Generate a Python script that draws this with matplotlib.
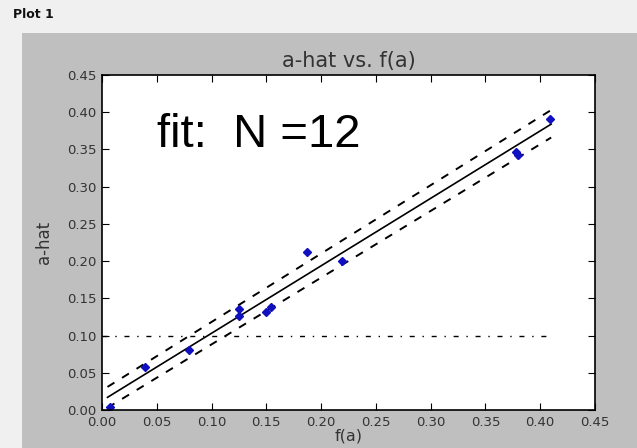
import numpy as np
from matplotlib import pyplot as plt
from matplotlib.patches import Rectangle

# data
f_a = [0.007, 0.039, 0.079, 0.125, 0.125, 0.150, 0.154, 0.187, 0.219, 0.378, 0.380, 0.409]
a_hat = [0.004, 0.058, 0.080, 0.126, 0.136, 0.131, 0.138, 0.212, 0.200, 0.347, 0.343, 0.391]

fit_x = [0.005, 0.41]
fit_y = [0.017, 0.384]
upper_y = [0.031, 0.403]
lower_y = [0.003, 0.366]

thresh_x = [0.0, 0.41]
thresh_y = [0.10, 0.10]

ticks = [0.00, 0.05, 0.10, 0.15, 0.20, 0.25, 0.30, 0.35, 0.40, 0.45]

fig = plt.figure(figsize=(6.37, 4.48), dpi=100, facecolor='#f0f0f0')
# gray panel behind the plot
fig.patches.append(Rectangle((22/637, 0), 1 - 22/637, (448-33)/448,
                             transform=fig.transFigure, facecolor='#bfbfbf',
                             edgecolor='none', zorder=-10))
fig.text(13/637, 1 - 15/448, 'Plot 1', fontsize=9, fontweight='bold',
         va='center', ha='left', color='#111111')

ax = fig.add_axes([102/637, 38/448, 493/637, 335/448])
ax.set_zorder(5)
ax.set_facecolor('white')

ax.plot(thresh_x, thresh_y, color='black', linewidth=1.0, dashes=(3.6, 5.6, 1, 5.6))
ax.plot(fit_x, fit_y, color='black', linewidth=1.2)
ax.plot(fit_x, upper_y, color='black', linewidth=1.4, dashes=(4.2, 4.6))
ax.plot(fit_x, lower_y, color='black', linewidth=1.4, dashes=(4.2, 4.6))
ax.plot(f_a, a_hat, linestyle='none', marker='D', markersize=4.5,
        color='#1010c0', markeredgecolor='#1010c0')

ax.text(0.05, 0.353, 'fit:  N =12', fontsize=34, family='Liberation Sans',
        ha='left', va='baseline')

ax.set_xlim(0, 0.45)
ax.set_ylim(0, 0.45)
ax.set_xticks(ticks)
ax.set_yticks(ticks)
ax.set_xticklabels(['%.2f' % t for t in ticks])
ax.set_yticklabels(['%.2f' % t for t in ticks])
ax.tick_params(direction='in', top=True, right=True, length=5, labelsize=9.5,
               labelcolor='#333333', pad=4)
for s in ax.spines.values():
    s.set_linewidth(1.2)

ax.set_title('a-hat vs. f(a)', fontsize=15, color='#333333', pad=6)
ax.set_xlabel('f(a)', fontsize=11.5, color='#333333', labelpad=0)
ax.set_ylabel('a-hat', fontsize=12, color='#333333', labelpad=10)

plt.savefig('out.png', dpi=100, facecolor=fig.get_facecolor())
